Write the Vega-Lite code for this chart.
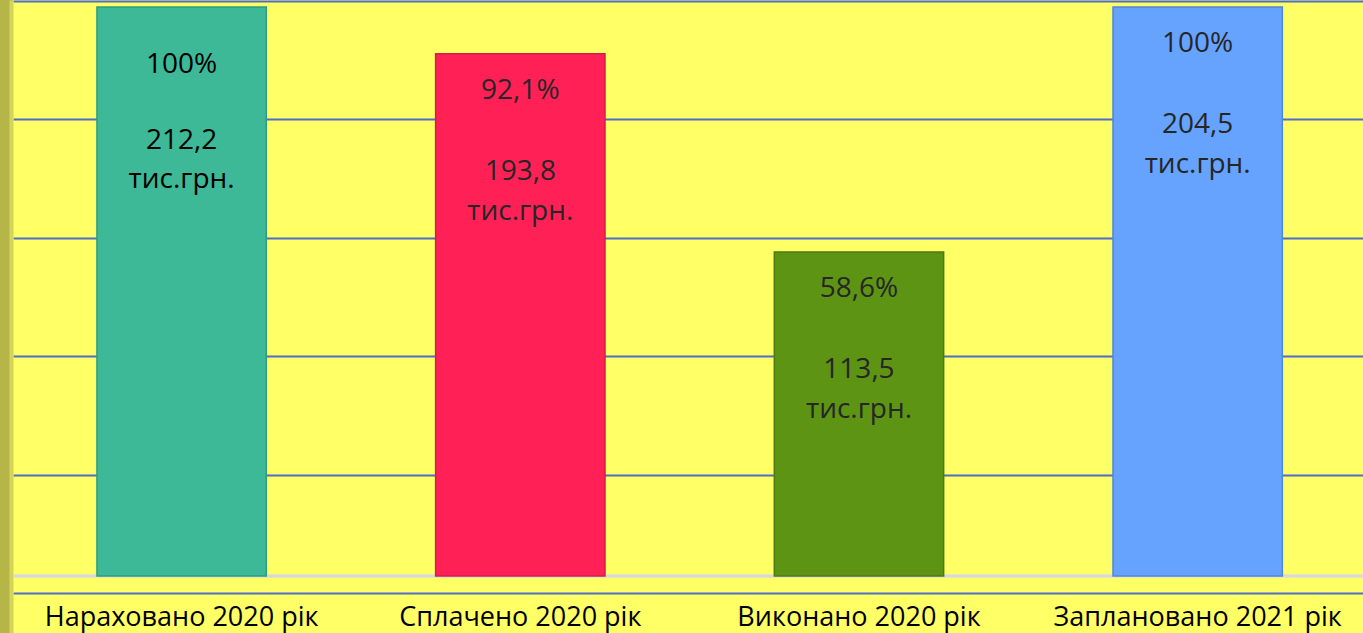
{
  "$schema": "https://vega.github.io/schema/vega-lite/v6.json",
  "width": 1350,
  "height": 633,
  "autosize": {"type": "none"},
  "padding": {"left": 13, "top": 0, "right": 0, "bottom": 0},
  "background": "#B6B648",
  "config": {
    "view": {"fill": "#FFFF66", "stroke": null},
    "font": "Open Sans"
  },
  "data": {
    "values": [
      {"cat": "Нараховано 2020 рік", "pct": 100, "pct_label": "100%", "val": 212.2, "val_label": "212,2"},
      {"cat": "Сплачено 2020 рік", "pct": 92.1, "pct_label": "92,1%", "val": 193.8, "val_label": "193,8"},
      {"cat": "Виконано 2020 рік", "pct": 58.6, "pct_label": "58,6%", "val": 113.5, "val_label": "113,5"},
      {"cat": "Заплановано 2021 рік", "pct": 100, "pct_label": "100%", "val": 204.5, "val_label": "204,5"}
    ]
  },
  "transform": [
    {"calculate": "[datum.val_label, 'тис.грн.']", "as": "lines"}
  ],
  "layer": [
    {
      "mark": {"type": "rule", "color": "#D9D9D9", "strokeWidth": 2.5},
      "encoding": {
        "y": {
          "datum": 3.885,
          "type": "quantitative",
          "scale": {"domain": [-5.74, 101.18], "nice": false, "zero": false},
          "axis": {
            "title": null,
            "labels": false,
            "ticks": false,
            "domain": true,
            "domainColor": "#D4D458",
            "domainWidth": 4,
            "offset": 2,
            "grid": true,
            "gridColor": "#4F6CC8",
            "gridWidth": 2,
            "values": [1.01, 21.01, 41.01, 61.01, 81.01, 101.01]
          }
        }
      }
    },
    {
      "mark": {"type": "bar", "strokeWidth": 1.5},
      "encoding": {
        "x": {
          "field": "cat",
          "type": "nominal",
          "sort": null,
          "scale": {"paddingInner": 0.5, "paddingOuter": 0.243, "align": 0.51},
          "axis": {
            "title": null,
            "orient": "bottom",
            "offset": -8,
            "domain": false,
            "ticks": false,
            "tickSize": 0,
            "grid": false,
            "labelAngle": 0,
            "labelPadding": 0,
            "labelBaseline": "alphabetic",
            "labelFontSize": 27,
            "labelColor": "#000000",
            "labelLimit": 0,
            "labelFont": "Open Sans"
          }
        },
        "y": {"field": "pct", "type": "quantitative"},
        "y2": {"datum": 3.885},
        "color": {
          "field": "cat",
          "type": "nominal",
          "legend": null,
          "scale": {
            "domain": ["Нараховано 2020 рік", "Сплачено 2020 рік", "Виконано 2020 рік", "Заплановано 2021 рік"],
            "range": ["#3DB997", "#FF2156", "#5E9414", "#66A3FF"]
          }
        },
        "stroke": {
          "field": "cat",
          "type": "nominal",
          "legend": null,
          "scale": {
            "domain": ["Нараховано 2020 рік", "Сплачено 2020 рік", "Виконано 2020 рік", "Заплановано 2021 рік"],
            "range": ["#2E9C7D", "#D81A48", "#4C7A10", "#4F86D8"]
          }
        }
      }
    },
    {
      "transform": [{"filter": "datum.cat === 'Нараховано 2020 рік'"}],
      "mark": {"type": "text", "baseline": "alphabetic", "align": "center", "fontSize": 28, "dy": 66, "color": "#000000"},
      "encoding": {
        "x": {"field": "cat", "type": "nominal", "sort": null},
        "y": {"field": "pct", "type": "quantitative"},
        "text": {"field": "pct_label"}
      }
    },
    {
      "transform": [{"filter": "datum.cat === 'Нараховано 2020 рік'"}],
      "mark": {"type": "text", "baseline": "alphabetic", "align": "center", "fontSize": 28, "lineHeight": 39, "dy": 142, "color": "#000000"},
      "encoding": {
        "x": {"field": "cat", "type": "nominal", "sort": null},
        "y": {"field": "pct", "type": "quantitative"},
        "text": {"field": "lines"}
      }
    },
    {
      "transform": [{"filter": "datum.cat !== 'Нараховано 2020 рік'"}],
      "mark": {"type": "text", "baseline": "alphabetic", "align": "center", "fontSize": 28, "dy": 45, "color": "#262626"},
      "encoding": {
        "x": {"field": "cat", "type": "nominal", "sort": null},
        "y": {"field": "pct", "type": "quantitative"},
        "text": {"field": "pct_label"}
      }
    },
    {
      "transform": [{"filter": "datum.cat !== 'Нараховано 2020 рік'"}],
      "mark": {"type": "text", "baseline": "alphabetic", "align": "center", "fontSize": 28, "lineHeight": 40, "dy": 126, "color": "#262626"},
      "encoding": {
        "x": {"field": "cat", "type": "nominal", "sort": null},
        "y": {"field": "pct", "type": "quantitative"},
        "text": {"field": "lines"}
      }
    }
  ]
}
